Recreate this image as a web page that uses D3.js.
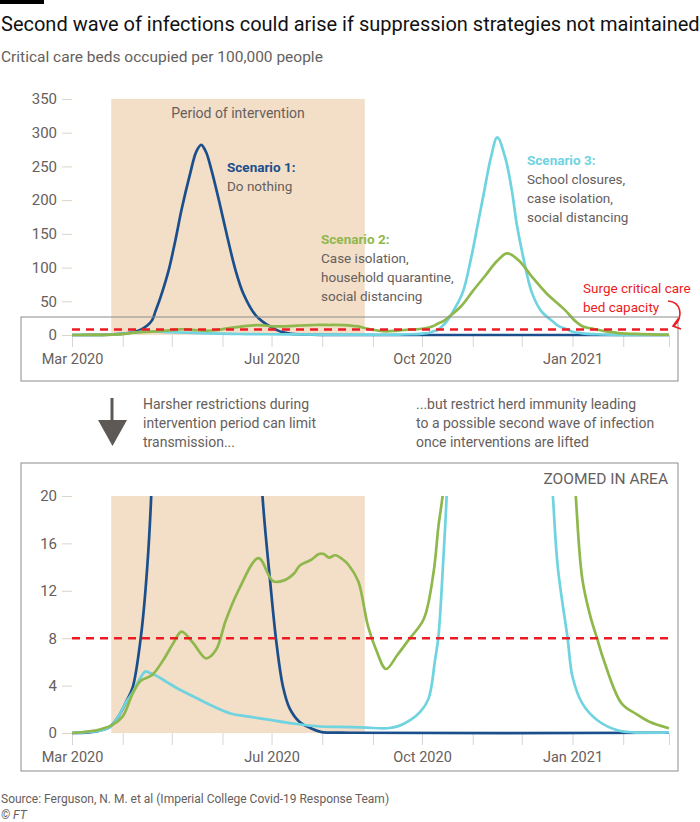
<!DOCTYPE html>
<html>
<head>
<meta charset="utf-8">
<script src="https://cdn.jsdelivr.net/npm/d3@7"></script>
<style>
  body { margin: 0; background: #fff; }
  svg { display: block; font-family: Roboto, "Noto Sans", sans-serif; }
</style>
</head>
<body>
<script>
// Scenario 1: do nothing  [date, beds per 100k]
const scenario1 = [
  ["2020-03-01", 0], ["2020-03-11", 0.05], ["2020-03-18", 0.2], ["2020-03-24", 0.5],
  ["2020-03-29", 1.3], ["2020-04-03", 2.6], ["2020-04-07", 3.8], ["2020-04-12", 8],
  ["2020-04-16", 14], ["2020-04-19", 22], ["2020-04-21", 35], ["2020-04-24", 55],
  ["2020-04-29", 95], ["2020-05-03", 138], ["2020-05-07", 186], ["2020-05-12", 237],
  ["2020-05-16", 272], ["2020-05-19", 282], ["2020-05-22", 271], ["2020-05-25", 247],
  ["2020-05-30", 198], ["2020-06-04", 145], ["2020-06-09", 96], ["2020-06-14", 60],
  ["2020-06-21", 30], ["2020-06-26", 19], ["2020-06-30", 13], ["2020-07-04", 7.6],
  ["2020-07-08", 3.9], ["2020-07-12", 2.1], ["2020-07-18", 0.95], ["2020-07-25", 0.4],
  ["2020-07-31", 0.1], ["2020-08-18", 0.02], ["2021-03-01", 0.02]
];

// Scenario 2: case isolation, household quarantine, social distancing
const scenario2 = [
  ["2020-03-01", 0], ["2020-03-18", 0.3], ["2020-03-26", 0.7], ["2020-04-01", 1.4],
  ["2020-04-07", 3.3], ["2020-04-12", 4.4], ["2020-04-19", 4.9], ["2020-04-26", 6.2],
  ["2020-05-02", 7.6], ["2020-05-07", 8.55], ["2020-05-14", 7.6], ["2020-05-22", 6.3],
  ["2020-05-28", 7.0], ["2020-06-03", 9.5], ["2020-06-11", 12.1], ["2020-06-23", 14.75],
  ["2020-07-02", 12.8], ["2020-07-09", 12.9], ["2020-07-15", 13.5], ["2020-07-18", 14.1],
  ["2020-07-25", 14.6], ["2020-07-30", 15.1], ["2020-08-02", 15.1], ["2020-08-05", 14.8],
  ["2020-08-09", 15.0], ["2020-08-14", 14.6], ["2020-08-17", 14.2], ["2020-08-23", 12.8],
  ["2020-08-29", 9], ["2020-09-03", 7], ["2020-09-09", 5.4], ["2020-09-16", 6.6],
  ["2020-09-23", 7.9], ["2020-10-02", 9.6], ["2020-10-08", 13.5], ["2020-10-11", 17.4],
  ["2020-10-14", 20.5], ["2020-10-18", 28], ["2020-10-25", 43], ["2020-11-01", 65],
  ["2020-11-09", 89], ["2020-11-16", 110], ["2020-11-22", 121], ["2020-11-29", 111],
  ["2020-12-07", 87], ["2020-12-16", 62], ["2020-12-27", 38], ["2021-01-03", 20],
  ["2021-01-07", 13], ["2021-01-12", 9.8], ["2021-01-16", 8], ["2021-01-20", 6.2],
  ["2021-01-31", 2.5], ["2021-02-09", 1.6], ["2021-02-17", 0.95], ["2021-03-01", 0.4]
];

// Scenario 3: school closures, case isolation, social distancing
const scenario3 = [
  ["2020-03-01", 0], ["2020-03-18", 0.2], ["2020-03-24", 0.5], ["2020-03-29", 1.3],
  ["2020-04-03", 2.6], ["2020-04-07", 3.4], ["2020-04-12", 4.7], ["2020-04-15", 5.2],
  ["2020-04-17", 5.1], ["2020-04-22", 4.8], ["2020-04-28", 4.3], ["2020-05-04", 3.8],
  ["2020-05-14", 3.1], ["2020-05-24", 2.4], ["2020-06-06", 1.65], ["2020-06-16", 1.4],
  ["2020-06-28", 1.15], ["2020-07-14", 0.8], ["2020-07-31", 0.55], ["2020-08-18", 0.5],
  ["2020-08-28", 0.45], ["2020-09-10", 0.4], ["2020-09-17", 0.6], ["2020-09-24", 1.1],
  ["2020-09-30", 1.8], ["2020-10-05", 2.9], ["2020-10-09", 6.2], ["2020-10-11", 8.1],
  ["2020-10-14", 14.6], ["2020-10-16", 19.8], ["2020-10-20", 35], ["2020-10-26", 64],
  ["2020-10-31", 114], ["2020-11-04", 163], ["2020-11-08", 213], ["2020-11-12", 262],
  ["2020-11-16", 293], ["2020-11-21", 262], ["2020-11-25", 213], ["2020-11-28", 163],
  ["2020-12-02", 114], ["2020-12-07", 64], ["2020-12-13", 35], ["2020-12-20", 20],
  ["2020-12-23", 14], ["2020-12-29", 8], ["2021-01-01", 4.75], ["2021-01-07", 2.5],
  ["2021-01-16", 1.1], ["2021-01-28", 0.25], ["2021-02-07", 0.05], ["2021-03-01", 0.05]
];

const surgeCapacity = 8;
const intervention = ["2020-03-25", "2020-08-27"];
const xDomain = ["2020-03-01", "2021-03-01"];
const xLabelDates = ["2020-03-01", "2020-07-01", "2020-10-01", "2021-01-01"];
const topYTicks = [0, 50, 100, 150, 200, 250, 300, 350];
const zoomYTicks = [0, 4, 8, 12, 16, 20];

const w = 700;
const h = 822;
const parse = d3.timeParse("%Y-%m-%d");
const fmt = d3.timeFormat("%b %Y");
const labelSet = new Set(xLabelDates);
const dayKey = d3.timeFormat("%Y-%m-%d");

const colors = {
  s1: "#1a4f8b",
  s2: "#8fb84c",
  s3: "#70d3e0",
  red: "#ec1b23",
  shade: "#f3dec8",
  text: "#66605c"
};

const series = [
  { key: "s1", data: scenario1 },
  { key: "s3", data: scenario3 },
  { key: "s2", data: scenario2 }
].map(s => ({ key: s.key, data: s.data.map(d => ({ date: parse(d[0]), value: d[1] })) }));

const svg = d3.select("body").append("svg")
  .attr("width", w)
  .attr("height", h);

// header
svg.append("rect").attr("x", 0).attr("y", 0).attr("width", 44).attr("height", 4).attr("fill", "#000");
svg.append("text")
  .attr("x", 1).attr("y", 31)
  .attr("font-size", 20)
  .attr("fill", "#111")
  .text("Second wave of infections could arise if suppression strategies not maintained");
svg.append("text")
  .attr("x", 1).attr("y", 62)
  .attr("font-size", 15.5)
  .attr("fill", colors.text)
  .text("Critical care beds occupied per 100,000 people");

const x = d3.scaleTime()
  .domain(xDomain.map(parse))
  .range([72, 669]);

function drawPanel(g, y, yTicks, clip) {
  const y0 = y.range()[0];
  const yMax = y.range()[1];

  // intervention period shading
  g.append("rect")
    .attr("x", x(parse(intervention[0])))
    .attr("y", yMax)
    .attr("width", x(parse(intervention[1])) - x(parse(intervention[0])))
    .attr("height", y0 - yMax)
    .attr("fill", colors.shade);

  // y axis
  const yAxis = d3.axisLeft(y).tickValues(yTicks).tickSize(10).tickPadding(5);
  const ya = g.append("g")
    .attr("transform", "translate(72,0)")
    .call(yAxis);
  ya.select(".domain").remove();
  ya.selectAll(".tick line").attr("stroke", "#ddd3c9");
  ya.selectAll(".tick text")
    .attr("font-size", 15)
    .attr("font-family", "Roboto, sans-serif")
    .attr("fill", colors.text);

  // x axis
  const xAxis = d3.axisBottom(x)
    .ticks(d3.timeMonth.every(1))
    .tickSize(12)
    .tickPadding(7)
    .tickFormat(d => labelSet.has(dayKey(d)) ? fmt(d) : "");
  const xa = g.append("g")
    .attr("transform", "translate(0," + y0 + ")")
    .call(xAxis);
  xa.select(".domain").remove();
  xa.selectAll(".tick line").attr("stroke", "#d6d6d6");
  xa.selectAll(".tick text")
    .attr("font-size", 14.5)
    .attr("font-family", "Roboto, sans-serif")
    .attr("fill", colors.text);

  const line = d3.line()
    .x(d => x(d.date))
    .y(d => y(d.value))
    .curve(d3.curveCatmullRom.alpha(0.5));

  const lines = g.append("g");
  if (clip) lines.attr("clip-path", "url(#" + clip + ")");
  lines.selectAll("path")
    .data(series)
    .enter()
    .append("path")
    .attr("d", s => line(s.data))
    .attr("fill", "none")
    .attr("stroke", s => colors[s.key])
    .attr("stroke-width", 2.7)
    .attr("stroke-linejoin", "round");

  // surge capacity
  g.append("line")
    .attr("x1", 72).attr("x2", 669)
    .attr("y1", y(surgeCapacity)).attr("y2", y(surgeCapacity))
    .attr("stroke", colors.red)
    .attr("stroke-width", 2.5)
    .attr("stroke-dasharray", "8,6");
}

// ---- top panel ----
const yTop = d3.scaleLinear().domain([0, 350]).range([335, 99]);
const topPanel = svg.append("g");
drawPanel(topPanel, yTop, topYTicks, null);

// zoomed area frame
topPanel.append("rect")
  .attr("x", 21).attr("y", 317)
  .attr("width", 657).attr("height", 64)
  .attr("fill", "none")
  .attr("stroke", "#8c8c8c")
  .attr("stroke-width", 1);

topPanel.append("text")
  .attr("x", 238).attr("y", 118)
  .attr("text-anchor", "middle")
  .attr("font-size", 14)
  .attr("fill", colors.text)
  .text("Period of intervention");

function note(xp, yp, head, color, lines) {
  const t = svg.append("text").attr("font-size", 13.5).attr("fill", colors.text);
  t.append("tspan").attr("x", xp).attr("y", yp)
    .attr("font-weight", "bold").attr("fill", color).text(head);
  lines.forEach((l, i) => {
    t.append("tspan").attr("x", xp).attr("y", yp + 19 * (i + 1)).text(l);
  });
}
note(227, 172, "Scenario 1:", colors.s1, ["Do nothing"]);
note(321, 244, "Scenario 2:", colors.s2, ["Case isolation,", "household quarantine,", "social distancing"]);
note(527, 165, "Scenario 3:", colors.s3, ["School closures,", "case isolation,", "social distancing"]);

const surge = svg.append("text").attr("font-size", 13.5).attr("fill", colors.red);
surge.append("tspan").attr("x", 583).attr("y", 293).text("Surge critical care");
surge.append("tspan").attr("x", 583).attr("y", 312).text("bed capacity");
svg.append("path")
  .attr("d", "M668,301 C681,302 684,316 674,326")
  .attr("fill", "none").attr("stroke", colors.red).attr("stroke-width", 1.6);
svg.append("path")
  .attr("d", "M678,319 L673,326 L681,329")
  .attr("fill", "none").attr("stroke", colors.red).attr("stroke-width", 1.6);

// ---- middle notes ----
svg.append("line")
  .attr("x1", 112).attr("x2", 112).attr("y1", 398).attr("y2", 422)
  .attr("stroke", "#5e5954").attr("stroke-width", 3);
svg.append("path")
  .attr("d", "M98,420 L127,420 L112.5,446 Z")
  .attr("fill", "#5e5954");

function para(xp, yp, lines) {
  const t = svg.append("text").attr("font-size", 14).attr("fill", colors.text);
  lines.forEach((l, i) => t.append("tspan").attr("x", xp).attr("y", yp + 19 * i).text(l));
}
para(143, 409, ["Harsher restrictions during", "intervention period can limit", "transmission..."]);
para(416, 409, ["...but restrict herd immunity leading", "to a possible second wave of infection", "once interventions are lifted"]);

// ---- zoomed panel ----
svg.append("rect")
  .attr("x", 21).attr("y", 463)
  .attr("width", 657).attr("height", 308)
  .attr("fill", "none")
  .attr("stroke", "#8c8c8c")
  .attr("stroke-width", 1);

const yZoom = d3.scaleLinear().domain([0, 20]).range([733, 496]);
svg.append("defs").append("clipPath").attr("id", "zoomclip")
  .append("rect").attr("x", 60).attr("y", yZoom(20)).attr("width", 620).attr("height", yZoom(0) - yZoom(20) + 4);
const bottomPanel = svg.append("g");
drawPanel(bottomPanel, yZoom, zoomYTicks, "zoomclip");

svg.append("text")
  .attr("x", 668).attr("y", 484)
  .attr("text-anchor", "end")
  .attr("font-size", 15.5)
  .attr("fill", colors.text)
  .text("ZOOMED IN AREA");

// footer
svg.append("text")
  .attr("x", 1).attr("y", 803)
  .attr("font-size", 12)
  .attr("fill", colors.text)
  .text("Source: Ferguson, N. M. et al (Imperial College Covid-19 Response Team)");
svg.append("text")
  .attr("x", 1).attr("y", 819)
  .attr("font-size", 12)
  .attr("font-style", "italic")
  .attr("fill", colors.text)
  .text("© FT");
</script>
</body>
</html>
